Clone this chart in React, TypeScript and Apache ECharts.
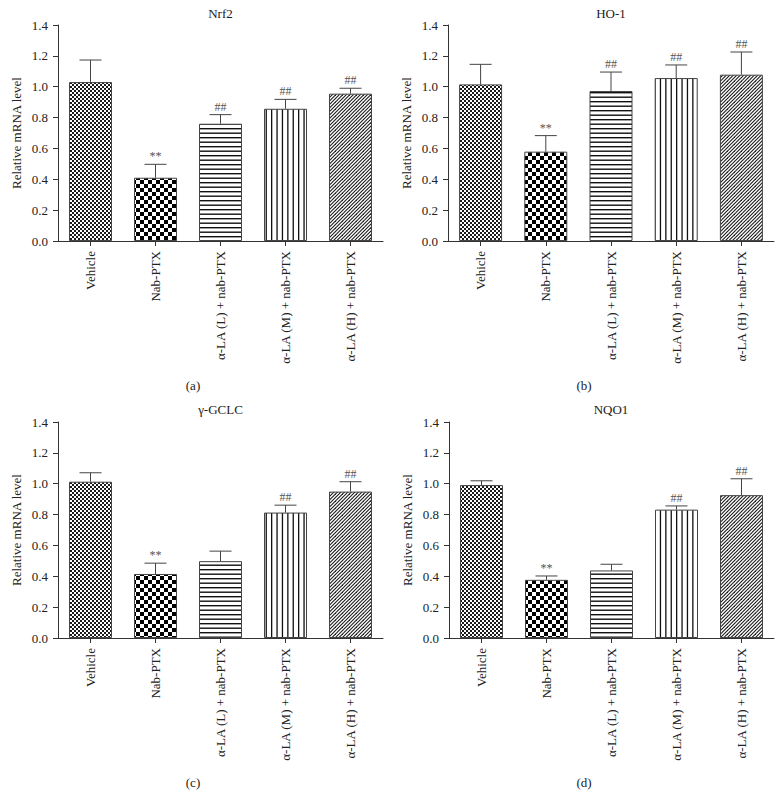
import React, { useEffect, useRef } from 'react';
import * as echarts from 'echarts';

const categories = ['Vehicle', 'Nab-PTX', 'α-LA (L) + nab-PTX', 'α-LA (M) + nab-PTX', 'α-LA (H) + nab-PTX'];
const panelTitles = ['Nrf2', 'HO-1', 'γ-GCLC', 'NQO1'];
const panelLetters = ['(a)', '(b)', '(c)', '(d)'];
const yAxisName = 'Relative mRNA level';

const nrf2Mean = [1.03, 0.41, 0.76, 0.857, 0.955];
const nrf2Upper = [1.173, 0.497, 0.819, 0.918, 0.99];
const nrf2Marks = ['', '**', '##', '##', '##'];

const ho1Mean = [1.015, 0.579, 0.972, 1.056, 1.078];
const ho1Upper = [1.145, 0.683, 1.095, 1.141, 1.225];
const ho1Marks = ['', '**', '##', '##', '##'];

const gclcMean = [1.013, 0.415, 0.498, 0.813, 0.949];
const gclcUpper = [1.071, 0.485, 0.563, 0.861, 1.013];
const gclcMarks = ['', '**', '', '##', '##'];

const nqo1Mean = [0.991, 0.377, 0.438, 0.832, 0.926];
const nqo1Upper = [1.019, 0.402, 0.478, 0.856, 1.032];
const nqo1Marks = ['', '**', '', '##', '##'];

const FONT = '"Liberation Serif", "Times New Roman", serif';

function makeTile(w: number, h: number, draw: (ctx: CanvasRenderingContext2D) => void) {
  const c = document.createElement('canvas');
  c.width = w;
  c.height = h;
  const ctx = c.getContext('2d') as CanvasRenderingContext2D;
  ctx.fillStyle = '#ffffff';
  ctx.fillRect(0, 0, w, h);
  draw(ctx);
  return { image: c.toDataURL(), repeat: 'repeat', imageWidth: w, imageHeight: h } as any;
}

function makePatterns() {
  const fine = makeTile(4, 4, (ctx) => {
    ctx.fillStyle = '#1a1a1a';
    ctx.fillRect(0, 0, 2, 2);
    ctx.fillRect(2, 2, 2, 2);
  });
  const coarse = makeTile(8, 8, (ctx) => {
    ctx.fillStyle = '#000000';
    ctx.fillRect(0, 0, 4, 4);
    ctx.fillRect(4, 4, 4, 4);
  });
  const horiz = makeTile(4, 9, (ctx) => {
    ctx.fillStyle = '#111111';
    ctx.fillRect(0, 2, 4, 1.4);
    ctx.fillRect(0, 6.5, 4, 1.4);
  });
  const vert = makeTile(27, 4, (ctx) => {
    ctx.fillStyle = '#111111';
    for (let k = 0; k < 5; k++) ctx.fillRect(k * 5.4 + 1, 0, 1.3, 4);
  });
  const diag = makeTile(7, 7, (ctx) => {
    ctx.strokeStyle = '#1a1a1a';
    ctx.lineWidth = 1.1;
    for (let k = -7; k <= 7; k += 3.5) {
      ctx.beginPath();
      ctx.moveTo(k - 1, 8);
      ctx.lineTo(k + 8, -1);
      ctx.stroke();
    }
  });
  return [fine, coarse, horiz, vert, diag];
}

const panels = [
  { mean: nrf2Mean, upper: nrf2Upper, marks: nrf2Marks },
  { mean: ho1Mean, upper: ho1Upper, marks: ho1Marks },
  { mean: gclcMean, upper: gclcUpper, marks: gclcMarks },
  { mean: nqo1Mean, upper: nqo1Upper, marks: nqo1Marks },
];

const gridPos = [
  { left: 58, top: 25, width: 325, height: 216 },
  { left: 448, top: 25, width: 326, height: 216 },
  { left: 58, top: 422, width: 325, height: 216 },
  { left: 449, top: 422, width: 325, height: 216 },
];

export default function App() {
  const ref = useRef<HTMLDivElement>(null);

  useEffect(() => {
    if (!ref.current) return;
    const chart = echarts.init(ref.current, undefined, { renderer: 'svg' });
    const patterns = makePatterns();

    const grids = gridPos.map((g) => ({
      left: g.left,
      top: g.top,
      width: g.width,
      height: g.height,
      containLabel: false,
      outerBoundsMode: 'none',
    }));

    const xAxes = gridPos.map((_, i) => ({
      type: 'category',
      gridIndex: i,
      data: categories,
      axisLine: { show: true, lineStyle: { color: '#333', width: 1 } },
      axisTick: { show: true, alignWithLabel: true, length: 5, lineStyle: { color: '#333' } },
      axisLabel: {
        rotate: 90,
        margin: 10,
        interval: 0,
        fontFamily: FONT,
        fontSize: 13,
        color: '#222',
      },
      splitLine: { show: false },
    }));

    const yAxes = gridPos.map((_, i) => ({
      type: 'value',
      gridIndex: i,
      min: 0,
      max: 1.4,
      interval: 0.2,
      name: yAxisName,
      nameLocation: 'middle',
      nameGap: 35,
      nameTextStyle: { fontFamily: FONT, fontSize: 13, color: '#222' },
      axisLine: { show: true, lineStyle: { color: '#333', width: 1 } },
      axisTick: { show: true, length: 5, lineStyle: { color: '#333' } },
      axisLabel: {
        margin: 10,
        fontFamily: FONT,
        fontSize: 13,
        color: '#222',
        formatter: (v: number) => v.toFixed(1),
      },
      splitLine: { show: false },
    }));

    const series: any[] = [];
    panels.forEach((p, i) => {
      series.push({
        type: 'bar',
        xAxisIndex: i,
        yAxisIndex: i,
        barWidth: 43,
        data: p.mean.map((v, j) => ({
          value: v,
          itemStyle: { color: patterns[j], borderColor: '#444', borderWidth: 1 },
        })),
        z: 2,
      });
      series.push({
        type: 'custom',
        xAxisIndex: i,
        yAxisIndex: i,
        z: 5,
        data: p.mean.map((v, j) => [j, v, p.upper[j]]),
        renderItem: (params: any, api: any) => {
          const x = api.value(0);
          const top = api.coord([x, api.value(1)]);
          const err = api.coord([x, api.value(2)]);
          const half = 11;
          const children: any[] = [
            {
              type: 'line',
              shape: { x1: top[0], y1: top[1], x2: err[0], y2: err[1] },
              style: { stroke: '#444', lineWidth: 1 },
            },
            {
              type: 'line',
              shape: { x1: err[0] - half, y1: err[1], x2: err[0] + half, y2: err[1] },
              style: { stroke: '#444', lineWidth: 1 },
            },
          ];
          const mark = p.marks[params.dataIndex];
          if (mark) {
            children.push({
              type: 'text',
              style: {
                text: mark,
                x: err[0],
                y: err[1] - 2,
                align: 'center',
                verticalAlign: 'bottom',
                fill: '#555',
                font: '12px ' + FONT,
              },
            });
          }
          return { type: 'group', children };
        },
      });
    });

    const titleCenters = [
      [220.5, 13],
      [611, 13],
      [220.5, 409],
      [611, 409],
    ];
    const letterCenters = [
      [193, 385],
      [584, 385],
      [193, 782],
      [584, 782],
    ];

    const graphic: any[] = [];
    panelTitles.forEach((t, i) => {
      graphic.push({
        type: 'text',
        x: titleCenters[i][0],
        y: titleCenters[i][1],
        style: {
          text: t,
          align: 'center',
          verticalAlign: 'middle',
          fill: '#222',
          font: '13px ' + FONT,
        },
      });
    });
    panelLetters.forEach((t, i) => {
      graphic.push({
        type: 'text',
        x: letterCenters[i][0],
        y: letterCenters[i][1],
        style: {
          text: t,
          align: 'center',
          verticalAlign: 'middle',
          fill: '#222',
          font: '13px ' + FONT,
        },
      });
    });

    chart.setOption({
      animation: false,
      backgroundColor: '#ffffff',
      textStyle: { fontFamily: FONT },
      grid: grids,
      xAxis: xAxes,
      yAxis: yAxes,
      series,
      graphic,
    } as any);

    return () => {
      chart.dispose();
    };
  }, []);

  return (
    <div
      ref={ref}
      style={{ position: 'fixed', left: 0, top: 0, width: 783, height: 808, background: '#fff' }}
    />
  );
}
